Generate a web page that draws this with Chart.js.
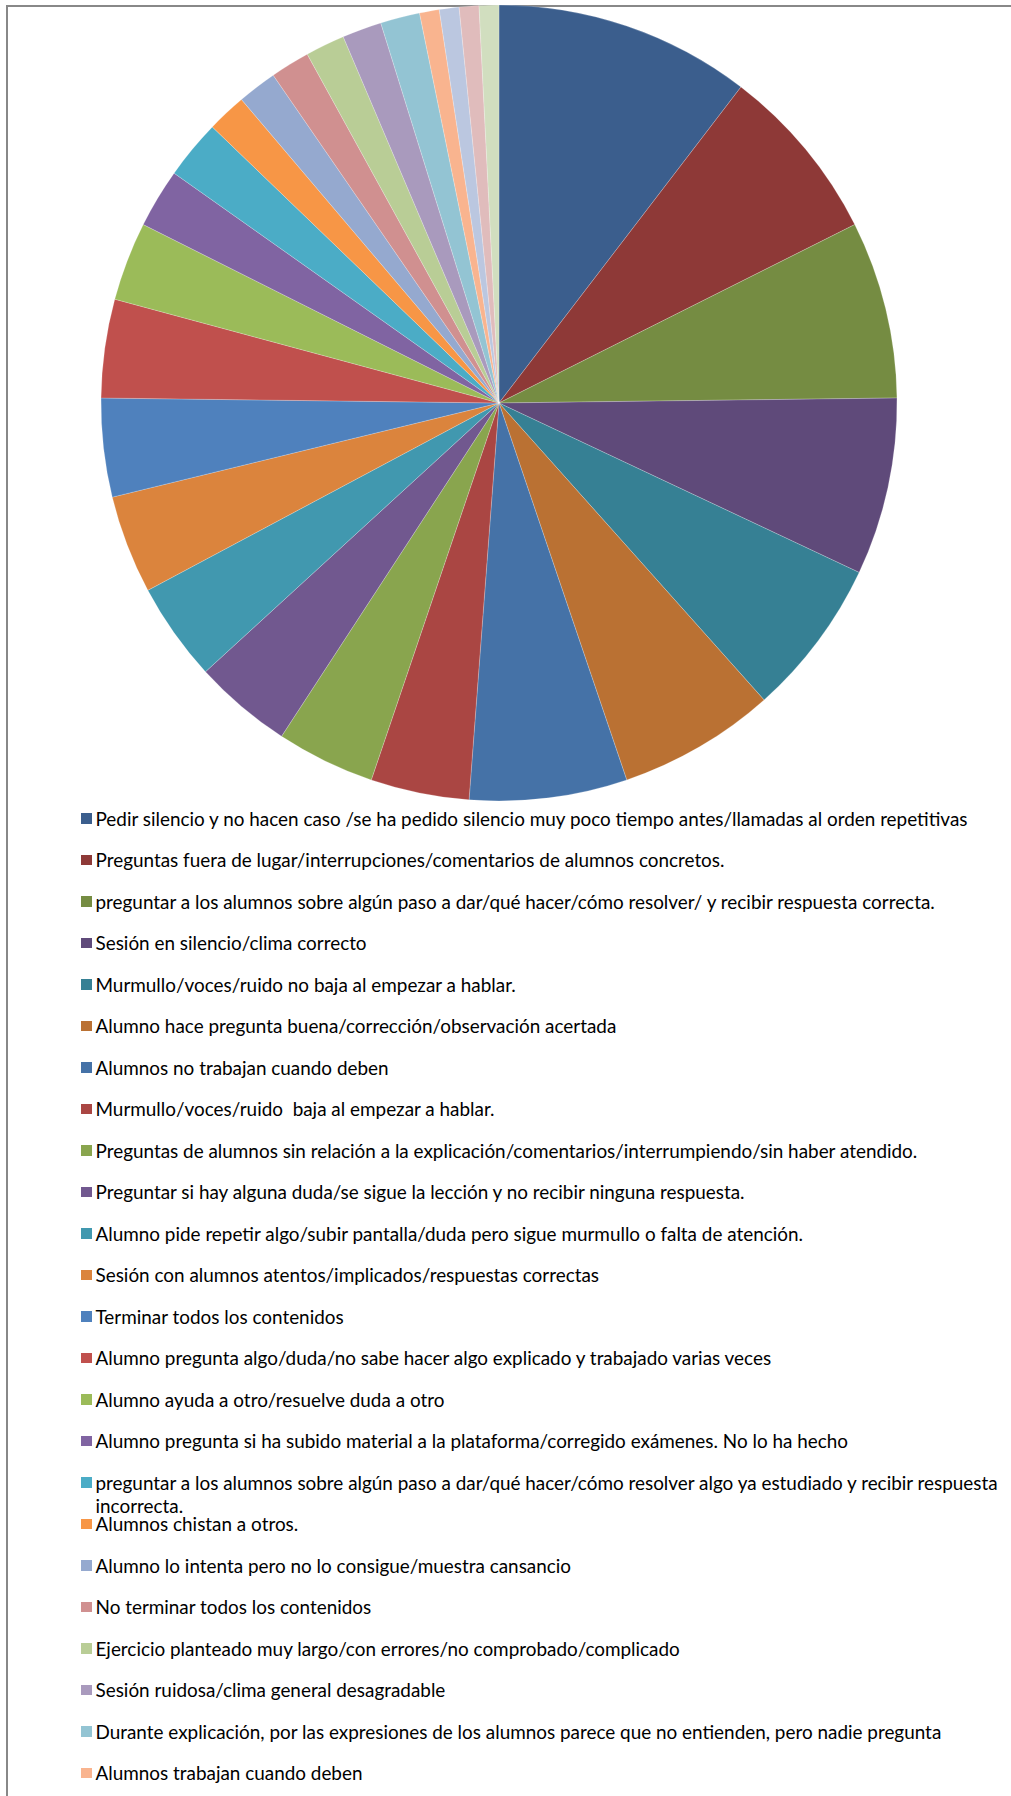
<!DOCTYPE html>
<html>
<head>
<meta charset="utf-8">
<script src="https://cdn.jsdelivr.net/npm/chart.js@4.4.1/dist/chart.umd.min.js"></script>
<style>
  html, body { margin: 0; padding: 0; background: #fff; width: 1011px; height: 1796px; overflow: hidden; }
  .frame { position: absolute; left: 6px; top: 5px; right: -10px; bottom: -10px; border-left: 2px solid #888; border-top: 2px solid #888; }
  .chart-box { position: absolute; left: 0; top: 0; width: 998px; height: 806px; }
  #legend { position: absolute; left: 0; top: 0; margin: 0; padding: 0; list-style: none; }
  #legend li { position: absolute; left: 81px; width: 925px; font-family: Lato, sans-serif; font-size: 18.9px; line-height: 23.3px; color: #000; }
  #legend .box { position: absolute; left: 0; top: 6.5px; width: 10.5px; height: 10.5px; }
  #legend .txt { display: block; margin-left: 14.5px; white-space: pre-wrap; }
</style>
</head>
<body>
<div class="frame"></div>
<div class="chart-box"><canvas id="pieChart"></canvas></div>
<ul id="legend"></ul>
<script>
const categories = [
  'Pedir silencio y no hacen caso /se ha pedido silencio muy poco tiempo antes/llamadas al orden repetitivas',
  'Preguntas fuera de lugar/interrupciones/comentarios de alumnos concretos.',
  'preguntar a los alumnos sobre algún paso a dar/qué hacer/cómo resolver/ y recibir respuesta correcta.',
  'Sesión en silencio/clima correcto',
  'Murmullo/voces/ruido no baja al empezar a hablar.',
  'Alumno hace pregunta buena/corrección/observación acertada',
  'Alumnos no trabajan cuando deben',
  'Murmullo/voces/ruido  baja al empezar a hablar.',
  'Preguntas de alumnos sin relación a la explicación/comentarios/interrumpiendo/sin haber atendido.',
  'Preguntar si hay alguna duda/se sigue la lección y no recibir ninguna respuesta.',
  'Alumno pide repetir algo/subir pantalla/duda pero sigue murmullo o falta de atención.',
  'Sesión con alumnos atentos/implicados/respuestas correctas',
  'Terminar todos los contenidos',
  'Alumno pregunta algo/duda/no sabe hacer algo explicado y trabajado varias veces',
  'Alumno ayuda a otro/resuelve duda a otro',
  'Alumno pregunta si ha subido material a la plataforma/corregido exámenes. No lo ha hecho',
  'preguntar a los alumnos sobre algún paso a dar/qué hacer/cómo resolver algo ya estudiado y recibir respuesta incorrecta.',
  'Alumnos chistan a otros.',
  'Alumno lo intenta pero no lo consigue/muestra cansancio',
  'No terminar todos los contenidos',
  'Ejercicio planteado muy largo/con errores/no comprobado/complicado',
  'Sesión ruidosa/clima general desagradable',
  'Durante explicación, por las expresiones de los alumnos parece que no entienden, pero nadie pregunta',
  'Alumnos trabajan cuando deben'
];

// frecuencias (las tres últimas porciones no tienen etiqueta visible)
const counts = [13, 9, 9, 9, 8, 8, 8, 5, 5, 5, 5, 5, 5, 5, 4, 3, 3, 2, 2, 2, 2, 2, 2, 1, 1, 1, 1];

const sliceColors = [
  '#3B5E8D', '#8E3937', '#758C42', '#5F4A7A', '#368094', '#BA7133',
  '#4572A7', '#AA4643', '#89A54E', '#71588F', '#4198AF', '#DB843D',
  '#4F81BD', '#C0504D', '#9BBB59', '#8064A2', '#4BACC6', '#F79646',
  '#95A9CF', '#D09090', '#B9CD96', '#A99ABD', '#93C4D3', '#F9B48F',
  '#BBC7E0', '#E0BCBC', '#D1DEBF'
];

// leyenda en HTML, una fila por categoría
const htmlLegend = {
  id: 'htmlLegend',
  afterUpdate(chart) {
    const ul = document.getElementById('legend');
    ul.innerHTML = '';
    const items = chart.options.plugins.legend.labels.generateLabels(chart);
    items.forEach((item, i) => {
      if (!item.text) return;
      const li = document.createElement('li');
      li.style.top = (818.3 + 41.5 * i - 11.65) + 'px';
      const box = document.createElement('span');
      box.className = 'box';
      box.style.background = item.fillStyle;
      const txt = document.createElement('span');
      txt.className = 'txt';
      txt.textContent = item.text;
      li.appendChild(box);
      li.appendChild(txt);
      ul.appendChild(li);
    });
  }
};

new Chart(document.getElementById('pieChart'), {
  type: 'pie',
  data: {
    labels: categories,
    datasets: [{
      data: counts,
      backgroundColor: sliceColors,
      borderColor: 'rgba(255,255,255,0.35)',
      borderWidth: 0.6
    }]
  },
  options: {
    responsive: true,
    maintainAspectRatio: false,
    animation: false,
    radius: 398,
    layout: { padding: 0 },
    plugins: {
      legend: { display: false },
      tooltip: { enabled: false }
    }
  },
  plugins: [htmlLegend]
});
</script>
</body>
</html>
